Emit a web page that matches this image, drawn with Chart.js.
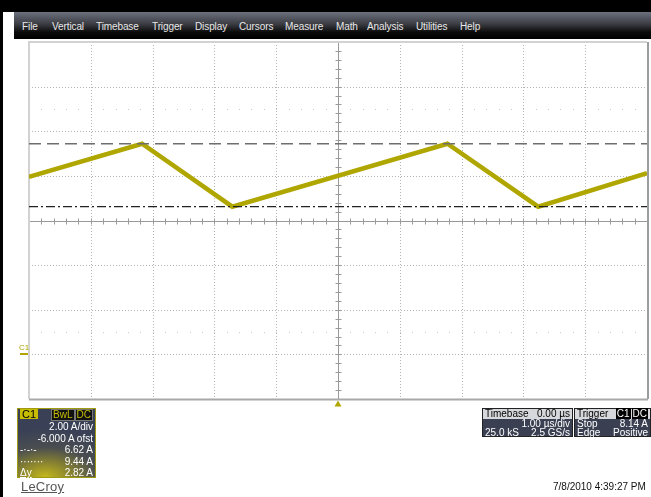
<!DOCTYPE html>
<html>
<head>
<meta charset="utf-8">
<script src="https://cdn.jsdelivr.net/npm/chart.js@4"></script>
<style>
  html, body { margin: 0; padding: 0; background: #fff; }
  body { width: 651px; height: 497px; position: relative; overflow: hidden; font-family: "Liberation Sans", Arial, sans-serif; }
  #topbar { position: absolute; left: 0; top: 0; width: 651px; height: 12px; background: #000; }
  #leftbar { position: absolute; left: 0; top: 0; width: 3px; height: 497px; background: #000; }
  #menu { position: absolute; left: 14px; top: 12px; width: 637px; height: 27px;
    background: linear-gradient(#6c717e 0%, #3a3c42 45%, #0a0a0a 75%, #000 100%); }
  #menu span { position: absolute; top: 9px; color: #e8e8e8; font-size: 10px; letter-spacing: -0.1px; }
  #chart { position: absolute; left: 0; top: 0; }
  .panel { position: absolute; color: #fff; font-size: 10px; line-height: 11.6px; box-sizing: border-box; }
  #c1 { left: 17px; top: 408px; width: 79px; height: 70px; border: 1px solid #a09a10;
    background: radial-gradient(ellipse 110% 70% at 35% 100%, #c4b81c 0%, #8a8430 30%, #4a4e50 62%, #3a4156 100%); }
  #c1 .row { position: absolute; left: 0; right: 2px; text-align: right; white-space: nowrap; }
  #c1 .lbl { position: absolute; left: 2px; }
  .tag { display: inline-block; background: #c6bd00; color: #000; padding: 0 2px; line-height: 10px; }
  .btag { display: inline-block; background: #111; color: #c6bd00; padding: 0 1px; line-height: 10px; border: 1px solid #777; }
  #tb, #tr { top: 408px; height: 29px; background: #3a4052; border: 1px solid #222; }
  #tb { left: 482px; width: 91px; }
  #tr { left: 574px; width: 77px; }
  .hdr { background: #d7d8db; color: #000; height: 10px; line-height: 10px; position: relative; padding: 0 2px; }
  .ln { position: relative; height: 9px; line-height: 9.5px; padding: 0 2px; }
  .r { position: absolute; right: 2px; }
  #logo { position: absolute; left: 21px; top: 479px; font-size: 13px; color: #555; text-decoration: underline; letter-spacing: 0.2px; }
  #date { position: absolute; left: 553px; top: 481px; font-size: 10px; color: #111; }
</style>
</head>
<body>
<div id="topbar"></div>
<div id="leftbar"></div>
<div id="menu">
  <span style="left:8px">File</span>
  <span style="left:38px">Vertical</span>
  <span style="left:82px">Timebase</span>
  <span style="left:138px">Trigger</span>
  <span style="left:181px">Display</span>
  <span style="left:225px">Cursors</span>
  <span style="left:271px">Measure</span>
  <span style="left:322px">Math</span>
  <span style="left:353px">Analysis</span>
  <span style="left:402px">Utilities</span>
  <span style="left:446px">Help</span>
</div>
<canvas id="chart" width="651" height="497"></canvas>

<div class="panel" id="c1">
  <div class="row" style="top:0px"><span class="lbl"><span class="tag" style="font-size:11px">C1</span></span><span class="btag">BwL</span><span class="btag">DC</span></div>
  <div class="row" style="top:12px">2.00 A/div</div>
  <div class="row" style="top:23.5px">-6.000 A ofst</div>
  <div class="row" style="top:35px"><span class="lbl">-·-·-</span>6.62 A</div>
  <div class="row" style="top:46.5px"><span class="lbl">·······</span>9.44 A</div>
  <div class="row" style="top:58px"><span class="lbl" style="text-decoration:underline">Δy</span>2.82 A</div>
</div>

<div class="panel" id="tb">
  <div class="hdr">Timebase<span class="r">0.00 µs</span></div>
  <div class="ln"><span class="r">1.00 µs/div</span></div>
  <div class="ln">25.0 kS<span class="r">2.5 GS/s</span></div>
</div>
<div class="panel" id="tr">
  <div class="hdr">Trigger<span class="r"><span style="background:#000;color:#fff;padding:0 1px">C1</span><span style="background:#000;color:#fff;padding:0 1px;margin-left:1px">DC</span></span></div>
  <div class="ln">Stop<span class="r">8.14 A</span></div>
  <div class="ln">Edge<span class="r">Positive</span></div>
</div>

<div id="logo">LeCroy</div>
<div id="date">7/8/2010 4:39:27 PM</div>

<script>
// time axis (µs) and channel 1 current (A)
const timeUs = [-5, -3.17, -1.71, 1.77, 3.24, 5];
const currentA = [7.96, 9.44, 6.62, 9.44, 6.62, 8.12];

// cursor levels
const cursorSpan = [-5, 5];
const cursorUpper = 9.44;
const cursorLower = 6.62;

// graticule divisions
const xDivs = [-5, -4, -3, -2, -1, 0, 1, 2, 3, 4, 5];
const yDivs = [-2, 0, 2, 4, 6, 8, 10, 12, 14];
const xCenter = 0;
const yCenter = 6;
const dotRows = [1, 11];
const groundLevel = 0;

const traceColor = '#b0a600';

// Draw the scope graticule behind the trace
const graticule = {
    id: 'graticule',
    beforeDatasetsDraw(chart) {
        const ctx = chart.ctx;
        const xs = chart.scales.x, ys = chart.scales.y;
        const a = chart.chartArea;
        ctx.save();

        // dotted division lines
        ctx.strokeStyle = '#b4b4b4';
        ctx.lineWidth = 1;
        ctx.setLineDash([1, 2]);
        xDivs.forEach(v => {
            if (v === xCenter || v === xDivs[0] || v === xDivs[xDivs.length - 1]) return;
            const px = Math.round(xs.getPixelForValue(v)) + 0.5;
            ctx.beginPath(); ctx.moveTo(px, a.top); ctx.lineTo(px, a.bottom); ctx.stroke();
        });
        yDivs.forEach(v => {
            if (v === yCenter || v === yDivs[0] || v === yDivs[yDivs.length - 1]) return;
            const py = Math.round(ys.getPixelForValue(v)) + 0.5;
            ctx.beginPath(); ctx.moveTo(a.left, py); ctx.lineTo(a.right, py); ctx.stroke();
        });
        ctx.setLineDash([]);

        // faint minor dots
        ctx.fillStyle = '#c8c8c8';
        dotRows.forEach(v => {
            const py = Math.round(ys.getPixelForValue(v));
            for (let t = xDivs[0]; t <= xDivs[xDivs.length - 1] + 1e-6; t += 0.2) {
                const px = Math.round(xs.getPixelForValue(t));
                ctx.fillRect(px, py, 1, 1);
            }
        });

        // center axes with minor ticks
        const cx = Math.round(xs.getPixelForValue(xCenter)) + 0.5;
        const cy = Math.round(ys.getPixelForValue(yCenter)) + 0.5;
        ctx.strokeStyle = '#9a9a9a';
        ctx.beginPath(); ctx.moveTo(a.left, cy); ctx.lineTo(a.right, cy); ctx.stroke();
        ctx.beginPath(); ctx.moveTo(cx, a.top); ctx.lineTo(cx, a.bottom); ctx.stroke();
        for (let t = xDivs[0]; t <= xDivs[xDivs.length - 1] + 1e-6; t += 0.2) {
            const px = Math.round(xs.getPixelForValue(t)) + 0.5;
            ctx.beginPath(); ctx.moveTo(px, cy - 3); ctx.lineTo(px, cy + 3); ctx.stroke();
        }
        for (let v = yDivs[0]; v <= yDivs[yDivs.length - 1] + 1e-6; v += 0.4) {
            const py = Math.round(ys.getPixelForValue(v)) + 0.5;
            ctx.beginPath(); ctx.moveTo(cx - 3, py); ctx.lineTo(cx + 3, py); ctx.stroke();
        }

        // frame
        ctx.lineWidth = 2;
        ctx.strokeStyle = '#d2d2d2';
        ctx.beginPath(); ctx.moveTo(a.left, a.bottom); ctx.lineTo(a.left, a.top); ctx.lineTo(a.right, a.top); ctx.stroke();
        ctx.strokeStyle = '#a8a8a8';
        ctx.beginPath(); ctx.moveTo(a.left, a.bottom + 0.5); ctx.lineTo(a.right + 1, a.bottom + 0.5); ctx.stroke();
        ctx.strokeStyle = '#9c9c9c';
        ctx.beginPath(); ctx.moveTo(a.right + 1, a.top); ctx.lineTo(a.right + 1, a.bottom); ctx.stroke();
        ctx.restore();
    },
    afterDraw(chart) {
        const ctx = chart.ctx;
        const xs = chart.scales.x, ys = chart.scales.y;
        const a = chart.chartArea;
        ctx.save();
        // trigger position marker
        const tx = xs.getPixelForValue(xCenter);
        ctx.fillStyle = traceColor;
        ctx.beginPath();
        ctx.moveTo(tx, a.bottom + 1.5); ctx.lineTo(tx - 3.5, a.bottom + 7.5); ctx.lineTo(tx + 3.5, a.bottom + 7.5);
        ctx.closePath(); ctx.fill();
        // channel ground marker
        const gy = Math.round(ys.getPixelForValue(groundLevel));
        ctx.fillRect(a.left - 9, gy - 1, 8, 2);
        ctx.font = '8px "Liberation Sans", Arial';
        ctx.textBaseline = 'bottom';
        ctx.fillText('C1', a.left - 10, gy - 2);
        ctx.restore();
    }
};

function initScope() {
    const ctx = document.getElementById('chart');
    const trace = timeUs.map((t, i) => ({ x: t, y: currentA[i] }));
    const upper = cursorSpan.map(t => ({ x: t, y: cursorUpper }));
    const lower = cursorSpan.map(t => ({ x: t, y: cursorLower }));

    new Chart(ctx, {
        type: 'line',
        data: {
            datasets: [
                {
                    label: 'C1',
                    data: trace,
                    borderColor: traceColor,
                    borderWidth: 4.5,
                    pointRadius: 0,
                    tension: 0,
                    order: 2
                },
                {
                    label: 'Cursor 2',
                    data: upper,
                    borderColor: '#6e6e6e',
                    borderWidth: 1.5,
                    borderDash: [12, 6],
                    pointRadius: 0,
                    order: 1
                },
                {
                    label: 'Cursor 1',
                    data: lower,
                    borderColor: '#222',
                    borderWidth: 1.2,
                    borderDash: [9, 3, 2, 3],
                    pointRadius: 0,
                    order: 1
                }
            ]
        },
        options: {
            responsive: false,
            animation: false,
            events: [],
            layout: { padding: { left: 29, top: 42, right: 4, bottom: 98 } },
            plugins: { legend: { display: false }, tooltip: { enabled: false } },
            scales: {
                x: { type: 'linear', display: false, min: xDivs[0], max: xDivs[xDivs.length - 1] },
                y: { type: 'linear', display: false, min: yDivs[0], max: yDivs[yDivs.length - 1] }
            }
        },
        plugins: [graticule]
    });
}

document.addEventListener('DOMContentLoaded', initScope);
</script>
</body>
</html>
